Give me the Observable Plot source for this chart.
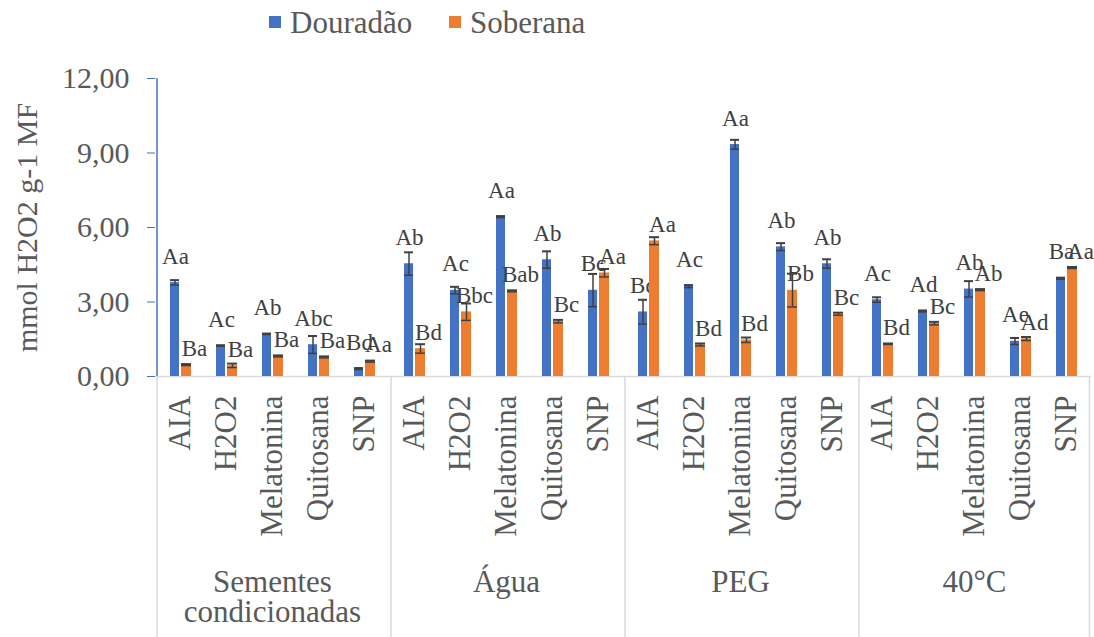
<!DOCTYPE html>
<html><head><meta charset="utf-8">
<script src="https://cdn.jsdelivr.net/npm/d3@7"></script>
<script src="https://cdn.jsdelivr.net/npm/@observablehq/plot@0.6"></script>
<style>
body{margin:0;background:#fff;font-family:"Liberation Serif","Times New Roman",serif;}
#legend{height:45px;position:relative;color:#595959;font-size:31px;}
.sw{position:absolute;top:16px;width:12px;height:12px;}
.lt{position:absolute;top:7px;line-height:31px;white-space:nowrap;}
</style></head><body>
<div id="legend"></div>
<div id="chart"></div>
<script>
const groups = ["Sementes condicionadas", "Água", "PEG", "40°C"];
const groupLabels = ["Sementes\ncondicionadas", "Água", "PEG", "40°C"];
const treatments = ["AIA", "H2O2", "Melatonina", "Quitosana", "SNP"];
const series = ["Douradão", "Soberana"];
const yTicks = [0, 3, 6, 9, 12];

// values per group (rows) and treatment (columns)
const douradao = [
  [3.78, 1.24, 1.71, 1.28, 0.31],
  [4.54, 3.47, 6.43, 4.70, 3.47],
  [2.60, 3.63, 9.34, 5.22, 4.54],
  [3.09, 2.63, 3.52, 1.42, 3.95]
];
const douradaoErr = [
  [0.10, 0.02, 0.02, 0.35, 0.03],
  [0.46, 0.14, 0.03, 0.34, 0.66],
  [0.49, 0.05, 0.19, 0.15, 0.18],
  [0.10, 0.03, 0.32, 0.13, 0.03]
];
const douradaoLabels = [
  ["Aa", "Ac", "Ab", "Abc", "Bd"],
  ["Ab", "Ac", "Aa", "Ab", "Bc"],
  ["Bd", "Ac", "Aa", "Ab", "Ab"],
  ["Ac", "Ad", "Ab", "Ae", "Ba"]
];
const soberana = [
  [0.47, 0.44, 0.82, 0.78, 0.61],
  [1.12, 2.60, 3.44, 2.22, 4.17],
  [5.46, 1.28, 1.47, 3.47, 2.52],
  [1.31, 2.14, 3.49, 1.52, 4.38]
];
const soberanaErr = [
  [0.03, 0.08, 0.03, 0.03, 0.03],
  [0.18, 0.34, 0.03, 0.06, 0.16],
  [0.15, 0.05, 0.10, 0.67, 0.05],
  [0.02, 0.06, 0.03, 0.07, 0.03]
];
const soberanaLabels = [
  ["Ba", "Ba", "Ba", "Ba", "Aa"],
  ["Bd", "Bbc", "Bab", "Bc", "Aa"],
  ["Aa", "Bd", "Bd", "Bb", "Bc"],
  ["Bd", "Bc", "Ab", "Ad", "Aa"]
];

const colors = ["#4472C4", "#ED7D31"];
const fontStack = "'Liberation Serif', 'Times New Roman', serif";

// legend
const legend = document.getElementById("legend");
const legendX = [269, 449];
series.forEach((s, i) => {
  const sw = document.createElement("div");
  sw.className = "sw"; sw.style.left = legendX[i] + "px"; sw.style.background = colors[i];
  const t = document.createElement("div");
  t.className = "lt"; t.style.left = (legendX[i] + 21) + "px"; t.textContent = s;
  legend.appendChild(sw); legend.appendChild(t);
});

function build(vals, errs, labs, name) {
  const out = [];
  groups.forEach((g, gi) => treatments.forEach((t, ti) => {
    out.push({group: g, treatment: t, series: name, value: vals[gi][ti], err: errs[gi][ti], label: labs[gi][ti]});
  }));
  return out;
}
const D = build(douradao, douradaoErr, douradaoLabels, series[0]);
const S = build(soberana, soberanaErr, soberanaLabels, series[1]);

const errColor = "#404040";
function seriesMarks(data, fill, insetLeft, insetRight, dx, labelDx, labelDy) {
  return [
    Plot.barY(data, {fx: "group", x: "treatment", y: "value", fill, insetLeft, insetRight}),
    Plot.ruleX(data, {fx: "group", x: "treatment", y1: d => d.value - d.err, y2: d => d.value + d.err, dx, stroke: errColor, strokeWidth: 1.5}),
    Plot.tickY(data, {fx: "group", x: "treatment", y: d => d.value + d.err, insetLeft, insetRight, stroke: errColor, strokeWidth: 2}),
    Plot.tickY(data, {fx: "group", x: "treatment", y: d => d.value - d.err, insetLeft, insetRight, stroke: errColor, strokeWidth: 1.5}),
    Plot.text(data, {fx: "group", x: "treatment", y: "value", text: "label", dx: labelDx, dy: labelDy, lineAnchor: "bottom", fontSize: 23, fill: "#404040"})
  ];
}

const leftEdges = groups.map(g => ({group: g, treatment: treatments[0]}));
const rightEdge = [{group: groups[groups.length - 1], treatment: treatments[treatments.length - 1]}];

const chart = Plot.plot({
  width: 1094,
  height: 592,
  marginLeft: 153,
  marginRight: 2,
  marginTop: 33,
  marginBottom: 261,
  fx: {domain: groups, padding: 0},
  x: {domain: treatments, padding: 0},
  y: {domain: [0, 12]},
  style: {fontFamily: fontStack, fontSize: "31px", color: "#595959", background: "#fff", overflow: "visible"},
  marks: [
    Plot.ruleY([0], {stroke: "#d9d9d9", strokeWidth: 1.5}),
    Plot.ruleX(leftEdges, {fx: "group", x: "treatment", dx: -23.5, y1: 0, y2: -10.6, stroke: "#d9d9d9", strokeWidth: 1.5}),
    Plot.ruleX(rightEdge, {fx: "group", x: "treatment", dx: 23, y1: 0, y2: -10.6, stroke: "#d9d9d9", strokeWidth: 1.5}),
    Plot.ruleX(leftEdges.slice(0, 1), {fx: "group", x: "treatment", dx: -23.5, y1: 0, y2: 12, stroke: "#4472C4", strokeWidth: 1.5}),
    ...seriesMarks(D, colors[0], 13, 24, -5.5, -5, -19),
    ...seriesMarks(S, colors[1], 24, 12, 6, 14, -9),
    Plot.axisY({ticks: yTicks, tickFormat: d => d.toFixed(2).replace(".", ","), tickSize: 8, tickPadding: 18, stroke: "#4472C4", fontSize: 30, label: "mmol H2O2 g-1 MF", labelAnchor: "center", labelOffset: 140, labelArrow: "none"}),
    Plot.axisX({tickRotate: -90, tickSize: 0, tickPadding: 19, fontSize: 31, label: null}),
    Plot.axisFx({anchor: "bottom", tickSize: 0, tickPadding: 194, fontSize: 31, label: null, lineHeight: 0.97, tickFormat: g => groupLabels[groups.indexOf(g)]})
  ]
});
document.getElementById("chart").appendChild(chart);
</script>
</body></html>
